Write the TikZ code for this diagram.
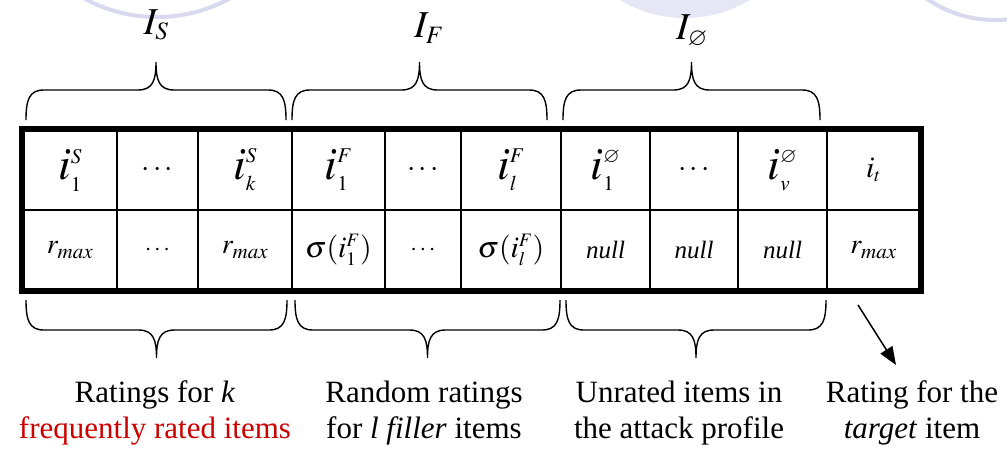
\documentclass[tikz,border=0pt]{standalone}
\usepackage{mathptmx}
\usepackage{amssymb}
\usepackage[no-math]{fontspec}
\setmainfont{Liberation Serif}
\usepackage{xcolor}
\usepackage{tikz}
\usetikzlibrary{arrows.meta}
\definecolor{ratingred}{RGB}{204, 0, 0}
\definecolor{lavline}{RGB}{216, 216, 238}
\definecolor{lavfill}{RGB}{230, 230, 245}
\DeclareMathSizes{46}{46}{21}{15}
\DeclareMathSizes{38}{38}{25}{18}
\DeclareMathSizes{30}{30}{19}{14}
\DeclareMathSizes{28}{28}{21}{15}
\DeclareMathSizes{24}{24}{17}{12}

% curly brace over a group of columns: x1, x2, y of the ends, direction (-1 up, 1 down)
\newcommand{\groupbrace}[4]{%
    \pgfmathsetmacro{\brmid}{(#1+#2)/2}%
    \pgfmathsetmacro{\brsh}{#3+(#4)*30}%
    \pgfmathsetmacro{\brtip}{#3+(#4)*58}%
    \pgfmathsetmacro{\brca}{#3+(#4)*20}%
    \pgfmathsetmacro{\brcb}{#3+(#4)*40}%
    \draw[line width=1.4pt]
        (#1,#3) .. controls (#1,\brca) and (#1+3,\brsh) .. (#1+18,\brsh)
        -- (\brmid-18,\brsh) .. controls (\brmid-3,\brsh) and (\brmid,\brcb) .. (\brmid,\brtip)
        .. controls (\brmid,\brcb) and (\brmid+3,\brsh) .. (\brmid+18,\brsh)
        -- (#2-18,\brsh) .. controls (#2-3,\brsh) and (#2,\brca) .. (#2,#3);%
}

\begin{document}
\begin{tikzpicture}[
    x=1pt, y=-1pt,
    cell/.style={draw, line width=1.5pt, minimum width=#1, minimum height=80pt, inner sep=0pt},
    bigmath/.style={font=\fontsize{46}{50}\selectfont},
    midmath/.style={font=\fontsize{30}{34}\selectfont},
    rmath/.style={font=\fontsize{28}{32}\selectfont},
    smalldots/.style={font=\fontsize{24}{28}\selectfont},
    nulltext/.style={font=\fontsize{25}{28}\selectfont\itshape},
    setlabel/.style={inner sep=0pt, font=\fontsize{38}{40}\selectfont},
    caption/.style={align=center, inner sep=0pt, font=\fontsize{31}{36}\selectfont}
]
\useasboundingbox (0,0) rectangle (1007,448);

% background of the slide
\draw[lavline, line width=4pt] (157,-135) circle (152);
\fill[lavfill] (685,-108) circle (126);
\draw[lavline, line width=4pt] (995,-100) circle (120);

% Items (top row)
\node[cell=94pt, bigmath] (i1) at (70,170) {$i^{S}_{1}$};
\node[cell=81pt, midmath] (i2) at (157.5,170) {$\cdots$};
\node[cell=94pt, bigmath] (i3) at (245,170) {$i^{S}_{k}$};
\node[cell=93pt, bigmath] (i4) at (338.5,170) {$i^{F}_{1}$};
\node[cell=76pt, midmath] (i5) at (423,170) {$\cdots$};
\node[cell=100pt, bigmath] (i6) at (511,170) {$i^{F}_{l}$};
\node[cell=89pt, bigmath] (i7) at (605.5,170) {$i^{\varnothing}_{1}$};
\node[cell=88pt, midmath] (i8) at (694,170) {$\cdots$};
\node[cell=89pt, bigmath] (i9) at (782.5,170) {$i^{\varnothing}_{v}$};
\node[cell=93pt, midmath] (i10) at (873.5,170) {$i_{t}$};

% Ratings (bottom row)
\node[cell=94pt, rmath] (r1) at (70,250) {$r_{max}$};
\node[cell=81pt, smalldots] (r2) at (157.5,250) {$\cdots$};
\node[cell=94pt, rmath] (r3) at (245,250) {$r_{max}$};
\node[cell=93pt, midmath] (r4) at (338.5,250) {$\sigma(i^{F}_{1})$};
\node[cell=76pt, smalldots] (r5) at (423,250) {$\cdots$};
\node[cell=100pt, midmath] (r6) at (511,250) {$\sigma(i^{F}_{l})$};
\node[cell=89pt, nulltext] (r7) at (605.5,250) {null};
\node[cell=88pt, nulltext] (r8) at (694,250) {null};
\node[cell=89pt, nulltext] (r9) at (782.5,250) {null};
\node[cell=93pt, rmath] (r10) at (873.5,250) {$r_{max}$};

% Profile border
\draw[line width=6pt] (i1.north west) rectangle (r10.south east);

% Item sets
\groupbrace{26}{286}{120}{-1}
\groupbrace{292}{547}{120}{-1}
\groupbrace{563}{820}{120}{-1}
\node[setlabel] (IS) at (156,25) {$I_{S}$};
\node[setlabel] (IF) at (429,28) {$I_{F}$};
\node[setlabel] (IN) at (692,31) {$I_{\varnothing}$};

% Descriptions
\groupbrace{26}{287}{300}{1}
\groupbrace{295}{560}{300}{1}
\groupbrace{566}{826}{300}{1}
\coordinate (arrtail) at (858,305);
\coordinate (arrtip) at (896,365);
\draw[-{Triangle[length=18pt, width=14pt]}, line width=1.5pt] (arrtail) -- (arrtip);

\node[caption] (cap1) at (155,413) {Ratings for \textit{k}\\\textcolor{ratingred}{frequently rated items}};
\node[caption] (cap2) at (424,413) {Random ratings\\for \textit{l filler} items};
\node[caption] (cap3) at (679,413) {Unrated items in\\the attack profile};
\node[caption] (cap4) at (912,413) {Rating for the\\\textit{target} item};

\end{tikzpicture}
\end{document}
